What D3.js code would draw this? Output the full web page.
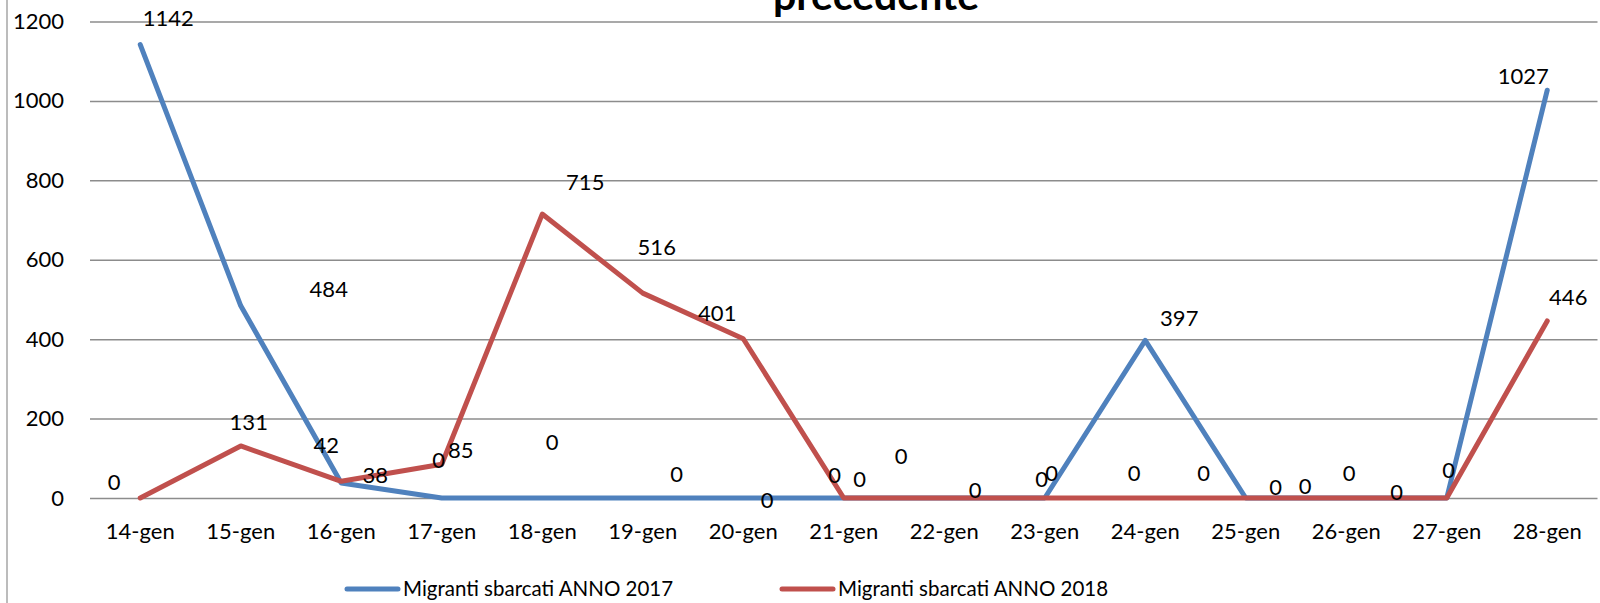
<!DOCTYPE html>
<html>
<head>
<meta charset="utf-8">
<script src="https://cdn.jsdelivr.net/npm/d3@7"></script>
<style>
  body { margin: 0; background: #fff; }
  text { font-family: Lato, "Open Sans", sans-serif; fill: #000; }
</style>
</head>
<body>
<div id="chart"></div>
<script>
// categories (days of January)
const days = ["14-gen", "15-gen", "16-gen", "17-gen", "18-gen", "19-gen", "20-gen", "21-gen",
  "22-gen", "23-gen", "24-gen", "25-gen", "26-gen", "27-gen", "28-gen"];

// series values
const sbarcati2017 = [1142, 484, 38, 0, 0, 0, 0, 0, 0, 0, 397, 0, 0, 0, 1027];
const sbarcati2018 = [0, 131, 42, 85, 715, 516, 401, 0, 0, 0, 0, 0, 0, 0, 446];

const seriesNames = ["Migranti sbarcati ANNO 2017", "Migranti sbarcati ANNO 2018"];
const yTicks = [0, 200, 400, 600, 800, 1000, 1200];

// where each data label sits relative to its point (px), as in the original sheet
const labelOffsets2017 = [[28, -26], [88, -17], [34, -8], [-3, -38], [10, -56], [34, -24], [24, 2],
  [-9, -23], [-43, -42], [-3, -19], [34, -22], [30, -11], [3, -25], [2, -28], [-24, -14]];
const labelOffsets2018 = [[-26, -16], [8, -24], [-15, -36], [19, -14], [43, -32], [14, -46], [-26, -26],
  [16, -19], [31, -8], [7, -25], [-11, -25], [-42, -25], [-41, -12], [-50, -6], [21, -24]];

const colors = ["#4F81BD", "#C0504D"];

const width = 1600, height = 603;

const svg = d3.select("#chart")
  .append("svg")
  .attr("width", width)
  .attr("height", height);

// chart area border (left edge visible)
svg.append("line")
  .attr("x1", 7).attr("x2", 7)
  .attr("y1", 0).attr("y2", height)
  .style("stroke", "#a6a6a6")
  .style("stroke-width", 1.5);

// title, cut off at the top just like in the original
svg.append("text")
  .attr("x", 876)
  .attr("y", 10)
  .style("text-anchor", "middle")
  .style("font-size", "41px")
  .style("font-weight", "bold")
  .text("precedente");

// scales
const x = d3.scaleBand().domain(days).range([90, 1597.5]);
const cx = (d) => x(d) + x.bandwidth() / 2;
const y = d3.scaleLinear().domain([0, 1200]).range([498, 21.5]);

// gridlines
svg.append("g")
  .attr("transform", "translate(90,0)")
  .call(d3.axisLeft(y).tickValues(yTicks).tickSize(-1507.5).tickFormat(""))
  .call((g) => g.select(".domain").remove())
  .call((g) => g.selectAll("line").style("stroke", "#8c8c8c").style("stroke-width", 1.5));

// Y axis labels
svg.append("g")
  .attr("transform", "translate(90,0)")
  .call(d3.axisLeft(y).tickValues(yTicks).tickSize(0).tickPadding(26).tickFormat(d3.format("d")))
  .call((g) => g.select(".domain").remove())
  .call((g) => g.selectAll("text").style("font-size", "22px").style("font-family", "Lato"));

// X axis labels
svg.append("g")
  .attr("transform", "translate(0,498)")
  .call(d3.axisBottom(x).tickSize(0).tickPadding(25))
  .call((g) => g.select(".domain").remove())
  .call((g) => g.selectAll("text").style("font-size", "22px").style("font-family", "Lato"));

// lines
const line = d3.line()
  .x((d, i) => cx(days[i]))
  .y((d) => y(d));

[sbarcati2017, sbarcati2018].forEach((values, s) => {
  svg.append("path")
    .datum(values)
    .attr("d", line)
    .style("fill", "none")
    .style("stroke", colors[s])
    .style("stroke-width", 5)
    .style("stroke-linejoin", "round")
    .style("stroke-linecap", "round");
});

// data labels
[[sbarcati2017, labelOffsets2017], [sbarcati2018, labelOffsets2018]].forEach(([values, offs]) => {
  svg.append("g")
    .selectAll("text")
    .data(values)
    .join("text")
    .attr("x", (d, i) => cx(days[i]) + offs[i][0])
    .attr("y", (d, i) => y(d) + offs[i][1])
    .attr("dy", "0.36em")
    .style("text-anchor", "middle")
    .style("font-size", "22px")
    .text((d) => d);
});

// legend
const legendX = [347, 782];
const legend = svg.append("g")
  .selectAll("g")
  .data(seriesNames)
  .join("g")
  .attr("transform", (d, i) => `translate(${legendX[i]},589)`);

legend.append("line")
  .attr("x1", 0).attr("x2", 51)
  .style("stroke", (d, i) => colors[i])
  .style("stroke-width", 5)
  .style("stroke-linecap", "round");

legend.append("text")
  .attr("x", 56)
  .attr("dy", "0.36em")
  .style("font-size", "20.5px")
  .text((d) => d);
</script>
</body>
</html>
